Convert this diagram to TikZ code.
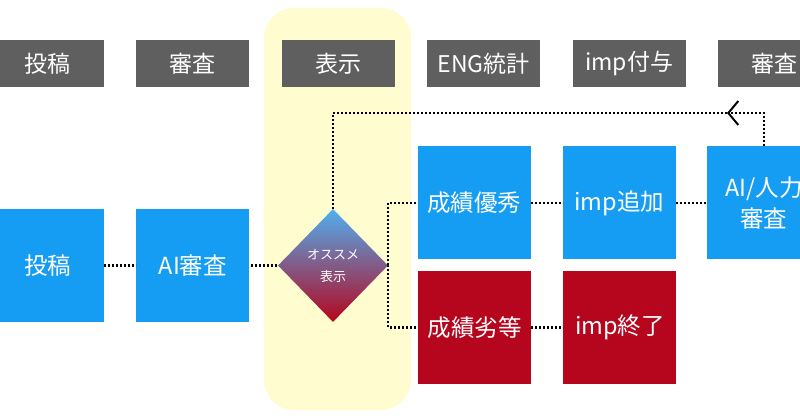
\documentclass[tikz,border=0pt]{standalone}
\usepackage{fontspec}
\setmainfont{Noto Sans CJK JP}
\usetikzlibrary{positioning,shapes.geometric,arrows.meta}

\definecolor{headgrey}{RGB}{95,95,95}
\definecolor{boxblue}{RGB}{20,157,242}
\definecolor{boxred}{RGB}{181,6,30}
\definecolor{markyellow}{RGB}{255,252,208}
\definecolor{topblue}{RGB}{80,175,240}

\tikzset{
  head/.style={fill=headgrey, text=white, minimum width=113pt, minimum height=47pt,
    inner sep=0pt, font=\fontsize{23}{26}\selectfont},
  bluebox/.style={fill=boxblue, text=white, minimum width=113pt, minimum height=113pt,
    inner sep=0pt, align=center, font=\fontsize{23.5}{31}\selectfont},
  redbox/.style={bluebox, fill=boxred},
  link/.style={line width=2.2pt, dash pattern=on 2pt off 2pt},
}

\begin{document}
\begin{tikzpicture}[x=1pt,y=-1pt]
\useasboundingbox (0,0) rectangle (800,419);
\fill[markyellow, rounded corners=30pt] (264,8) rectangle (411,410);

% top row
\node[head] (h1) at (47.5,63.5) {投稿};
\node[head, right=32pt of h1] (h2) {審査};
\node[head, right=32pt of h2] (h3) {表示};
\node[head, right=32pt of h3] (h4) {ENG統計};
\node[head, right=32pt of h4] (h5) {imp付与};
\node[head, right=32pt of h5] (h6) {審査};

% flow
\node[bluebox] (post) at (47.5,265.5) {投稿};
\node[bluebox, right=32pt of post] (ai) {AI審査};
\node[bluebox] (good) at (474,203) {成績優秀};
\node[bluebox, right=32pt of good] (impadd) {imp追加};
\node[bluebox, right=31pt of impadd] (check) {AI/人力\\審査};
\node[redbox] (bad) at (474.5,327.5) {成績劣等};
\node[redbox, right=32pt of bad] (impend) {imp終了};
\coordinate (back) at (727,113);

\draw[link] (post) -- (ai);
\draw[link] (good) -- (impadd);
\draw[link] (impadd) -- (check);
\draw[link] (bad) -- (impend);
\draw[link] (333,265.5) -- (ai.east);
\draw[link, -{Straight Barb[length=10pt,width=24pt,line width=2pt]}] (check.north) |- (back);
\draw[link] (back) -| (333,265.5);

\node[diamond, minimum width=110pt, minimum height=113pt, inner sep=0pt,
  top color=topblue, bottom color=boxred, text=white, align=center,
  font=\fontsize{13}{22}\selectfont] (rec) at (333,265.5) {オススメ\\表示};
\draw[link] (rec.east) |- (good.west);
\draw[link] (rec.east) |- (bad.west);
\end{tikzpicture}
\end{document}
